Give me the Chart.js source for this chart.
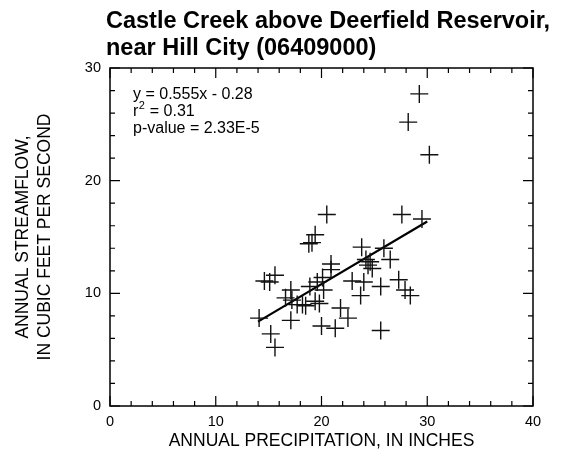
<!DOCTYPE html>
<html>
<head>
<meta charset="utf-8">
<script src="https://cdn.jsdelivr.net/npm/chart.js@4.4.1/dist/chart.umd.min.js"></script>
<style>
  html, body { margin: 0; padding: 0; background: #fff; }
  #wrap { width: 564px; height: 456px; position: relative; }
</style>
</head>
<body>
<div id="wrap"><canvas id="scatterChart"></canvas></div>
<script>
// Annual precipitation (inches) vs annual streamflow (cfs)
const precip = [14.1, 14.6, 15.1, 15.6, 15.2, 15.6, 16.6, 17.1, 17.2, 17.1,
                17.7, 18.2, 18.8, 19.1, 19.4, 19.4, 19.8, 19.6, 18.9, 20.2,
                20.1, 20.5, 20.9, 20.9, 20.0, 21.3, 21.8, 22.5, 22.9, 23.7,
                23.8, 24.0, 24.2, 24.4, 24.8, 24.6, 25.6, 25.6, 25.9, 26.5,
                27.3, 27.6, 27.9, 28.4, 28.2, 29.25, 29.5, 30.2, 18.5];
const flow   = [7.8, 11.1, 11.0, 11.6, 6.4, 5.2, 9.6, 7.6, 9.4, 10.3,
                9.0, 9.0, 14.4, 14.5, 15.2, 9.3, 9.1, 11.0, 10.6, 10.3,
                11.4, 17.0, 12.6, 12.1, 7.1, 6.9, 8.7, 7.8, 11.1, 9.8,
                14.1, 11.0, 13.0, 12.5, 12.2, 12.8, 10.6, 6.7, 14.0, 13.0,
                11.2, 17.0, 10.3, 9.8, 25.2, 27.7, 16.6, 22.3, 8.9];

const slope = 0.555;
const intercept = -0.28;
const fitRange = [14.0, 30.0];

const xTicks = [0, 10, 20, 30, 40];
const yTicks = [0, 10, 20, 30];

const titleLines = ['Castle Creek above Deerfield Reservoir,', 'near Hill City (06409000)'];
const FONT = '"Liberation Sans", Arial, Helvetica, sans-serif';

const points = precip.map((x, i) => ({ x: x, y: flow[i] }));
const fitLine = fitRange.map(x => ({ x: x, y: slope * x + intercept }));

// frame, inward ticks, title and regression text
const framePlugin = {
    id: 'framePlugin',
    afterDraw(chart) {
        const ctx = chart.ctx;
        const a = chart.chartArea;
        const xs = chart.scales.x, ys = chart.scales.y;
        ctx.save();
        ctx.strokeStyle = '#000';
        ctx.lineWidth = 1.5;
        ctx.strokeRect(a.left, a.top, a.right - a.left, a.bottom - a.top);
        ctx.lineWidth = 1.2;
        ctx.beginPath();
        for (let v = 0; v <= 40; v += 2) {
            const px = xs.getPixelForValue(v);
            const len = v % 10 === 0 ? 10 : 5;
            ctx.moveTo(px, a.bottom); ctx.lineTo(px, a.bottom - len);
            ctx.moveTo(px, a.top); ctx.lineTo(px, a.top + len);
        }
        for (let v = 0; v <= 30; v += 2) {
            const py = ys.getPixelForValue(v);
            const len = v % 10 === 0 ? 10 : 5;
            ctx.moveTo(a.left, py); ctx.lineTo(a.left + len, py);
            ctx.moveTo(a.right, py); ctx.lineTo(a.right - len, py);
        }
        ctx.stroke();

        // title
        ctx.fillStyle = '#000';
        ctx.font = 'bold 23.5px ' + FONT;
        ctx.textBaseline = 'alphabetic';
        ctx.textAlign = 'left';
        ctx.fillText(titleLines[0], 106, 28);
        ctx.fillText(titleLines[1], 106, 55);

        // regression annotation
        ctx.font = '16px ' + FONT;
        const tx = a.left + 23;
        ctx.fillText('y = ' + slope + 'x - ' + Math.abs(intercept), tx, 99);
        ctx.fillText('r', tx, 116);
        const rw = ctx.measureText('r').width;
        ctx.font = '11px ' + FONT;
        ctx.fillText('2', tx + rw + 0.5, 109);
        ctx.font = '16px ' + FONT;
        ctx.fillText(' = 0.31', tx + rw + 7, 116);
        ctx.fillText('p-value = 2.33E-5', tx, 133);
        ctx.restore();
    }
};

new Chart(document.getElementById('scatterChart'), {
    type: 'scatter',
    data: {
        datasets: [
            {
                label: 'Observed',
                data: points,
                pointStyle: 'cross',
                pointRadius: 9,
                pointHoverRadius: 9,
                borderColor: '#111',
                borderWidth: 1.4,
                backgroundColor: '#111'
            },
            {
                label: 'Fit',
                type: 'line',
                data: fitLine,
                borderColor: '#000',
                borderWidth: 2.2,
                pointRadius: 0,
                fill: false
            }
        ]
    },
    options: {
        responsive: true,
        maintainAspectRatio: false,
        animation: false,
        layout: { padding: { top: 68, right: 31, left: 0, bottom: 0 } },
        plugins: {
            legend: { display: false },
            tooltip: { enabled: false }
        },
        scales: {
            x: {
                type: 'linear',
                min: 0,
                max: 40,
                afterBuildTicks: s => { s.ticks = xTicks.map(v => ({ value: v })); },
                afterFit: s => { s.height = 50; },
                grid: { display: false, drawTicks: false },
                border: { display: false },
                ticks: { color: '#000', padding: 7, font: { family: FONT, size: 14.5 }, maxRotation: 0 },
                title: {
                    display: true,
                    text: 'ANNUAL PRECIPITATION, IN INCHES',
                    color: '#000',
                    font: { family: FONT, size: 17.5 },
                    padding: { top: 0, bottom: 4 }
                }
            },
            y: {
                type: 'linear',
                min: 0,
                max: 30,
                afterBuildTicks: s => { s.ticks = yTicks.map(v => ({ value: v })); },
                afterFit: s => { s.width = 110; },
                grid: { display: false, drawTicks: false },
                border: { display: false },
                ticks: { color: '#000', padding: 9, font: { family: FONT, size: 14.5 } },
                title: {
                    display: true,
                    text: ['ANNUAL STREAMFLOW,', 'IN CUBIC FEET PER SECOND'],
                    color: '#000',
                    font: { family: FONT, size: 17.5, lineHeight: 1.25 },
                    padding: { top: 12, bottom: 0 }
                }
            }
        }
    },
    plugins: [framePlugin]
});
</script>
</body>
</html>
